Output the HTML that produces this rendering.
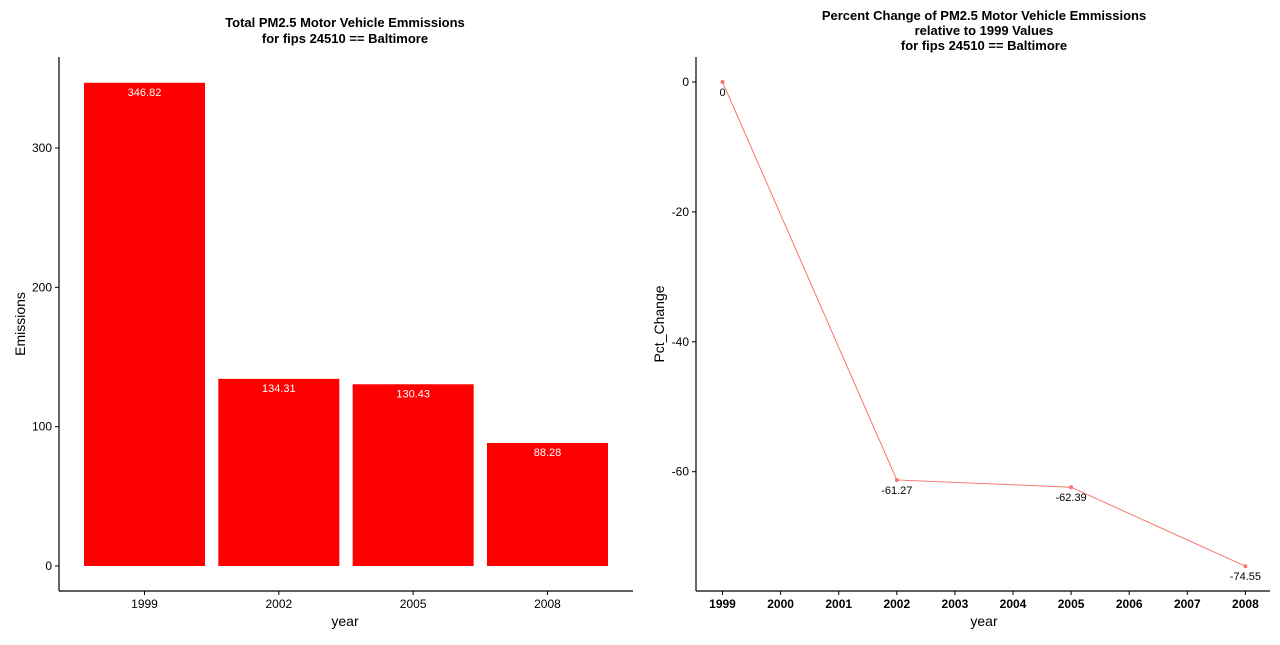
<!DOCTYPE html>
<html><head><meta charset="utf-8"><style>
body{margin:0;background:#fff;font-family:"Liberation Sans",Arial,sans-serif}
svg text{font-family:"Liberation Sans",Arial,sans-serif}
</style></head><body>
<svg id="s" width="1280" height="640" xmlns="http://www.w3.org/2000/svg">
<rect width="1280" height="640" fill="#fff"/>
<g id="left">
<text x="345" y="27" text-anchor="middle" font-size="13" font-weight="bold">Total PM2.5 Motor Vehicle Emmissions</text>
<text x="345" y="43" text-anchor="middle" font-size="13" font-weight="bold">for fips 24510 == Baltimore</text>
<line x1="59" y1="57" x2="59" y2="591" stroke="#000" stroke-width="1.2"/>
<line x1="59" y1="591" x2="633" y2="591" stroke="#000" stroke-width="1.2"/>
<text x="345" y="626" text-anchor="middle" font-size="14">year</text>
<text transform="translate(25,324) rotate(-90)" text-anchor="middle" font-size="14">Emissions</text>
</g>
<g id="right">
<text x="984" y="20" text-anchor="middle" font-size="13" font-weight="bold">Percent Change of PM2.5 Motor Vehicle Emmissions</text>
<text x="984" y="35" text-anchor="middle" font-size="13" font-weight="bold">relative to 1999 Values</text>
<text x="984" y="50" text-anchor="middle" font-size="13" font-weight="bold">for fips 24510 == Baltimore</text>
<line x1="696" y1="57" x2="696" y2="591" stroke="#000" stroke-width="1.2"/>
<line x1="696" y1="591" x2="1270" y2="591" stroke="#000" stroke-width="1.2"/>
<text x="984" y="626" text-anchor="middle" font-size="14">year</text>
<text transform="translate(664,324) rotate(-90)" text-anchor="middle" font-size="14">Pct_Change</text>
</g>
</svg>
<script>
const barYears=["1999","2002","2005","2008"];
const barValues=[346.82,134.31,130.43,88.28];
const barTicks=[0,100,200,300];
const lineYears=[1999,2002,2005,2008];
const lineValues=[0,-61.27,-62.39,-74.55];
const lineLabels=["0","-61.27","-62.39","-74.55"];
const lineTicks=[0,-20,-40,-60];
const lineXTicks=[1999,2000,2001,2002,2003,2004,2005,2006,2007,2008];
const NS="http://www.w3.org/2000/svg";
function mk(p,t,a,txt){const e=document.createElementNS(NS,t);for(const k in a)e.setAttribute(k,a[k]);if(txt!==undefined)e.textContent=txt;p.appendChild(e);return e;}
const L=document.getElementById('left'),R=document.getElementById('right');
const by=v=>566-v*1.3933;
const bx=i=>84+i*134.33;
barTicks.forEach(t=>{
 const l=mk(L,'line',{x1:55,x2:59,y1:by(t),y2:by(t),stroke:'#000'});
 
 
 const tx=mk(L,'text',{x:52,y:by(t)+4,'text-anchor':'end','font-size':12},t);
 
 
});
barYears.forEach((y,i)=>{
 const v=barValues[i];
 const r=mk(L,'rect',{x:bx(i),y:by(v),width:121,height:by(0)-by(v),fill:'#ff0000'});
 
 
 const t=mk(L,'text',{x:bx(i)+60.5,y:by(v)+13,'text-anchor':'middle','font-size':11,fill:'#fff'},v.toFixed(2));
 
 
 const tk=mk(L,'line',{x1:bx(i)+60.5,x2:bx(i)+60.5,y1:591,y2:595,stroke:'#000'});
 
 
 const xl=mk(L,'text',{x:bx(i)+60.5,y:608,'text-anchor':'middle','font-size':12},y);
 
 
});
const ly=v=>82-v*6.495;
const lx=y=>722.5+(y-1999)*58.1;
lineTicks.forEach(t=>{
 const l=mk(R,'line',{x1:692,x2:696,y1:ly(t),y2:ly(t),stroke:'#000'});
 
 
 const tx=mk(R,'text',{x:689,y:ly(t)+4,'text-anchor':'end','font-size':12},t);
 
 
});
lineXTicks.forEach(y=>{
 const l=mk(R,'line',{x1:lx(y),x2:lx(y),y1:591,y2:595,stroke:'#000'});
 
 
 const tx=mk(R,'text',{x:lx(y),y:608,'text-anchor':'middle','font-size':12,'font-weight':'bold'},y);
 
 
});
const pl=mk(R,'polyline',{points:lineYears.map((y,i)=>lx(y)+','+ly(lineValues[i])).join(' '),fill:'none',stroke:'#f8766d','stroke-width':1});


lineYears.forEach((y,i)=>{
 const c=mk(R,'circle',{cx:lx(y),cy:ly(lineValues[i]),r:2,fill:'#f8766d'});
 
 
 const t=mk(R,'text',{x:lx(y),y:ly(lineValues[i])+14,'text-anchor':'middle','font-size':11},lineLabels[i]);
 
 
});
</script>
</body></html>
